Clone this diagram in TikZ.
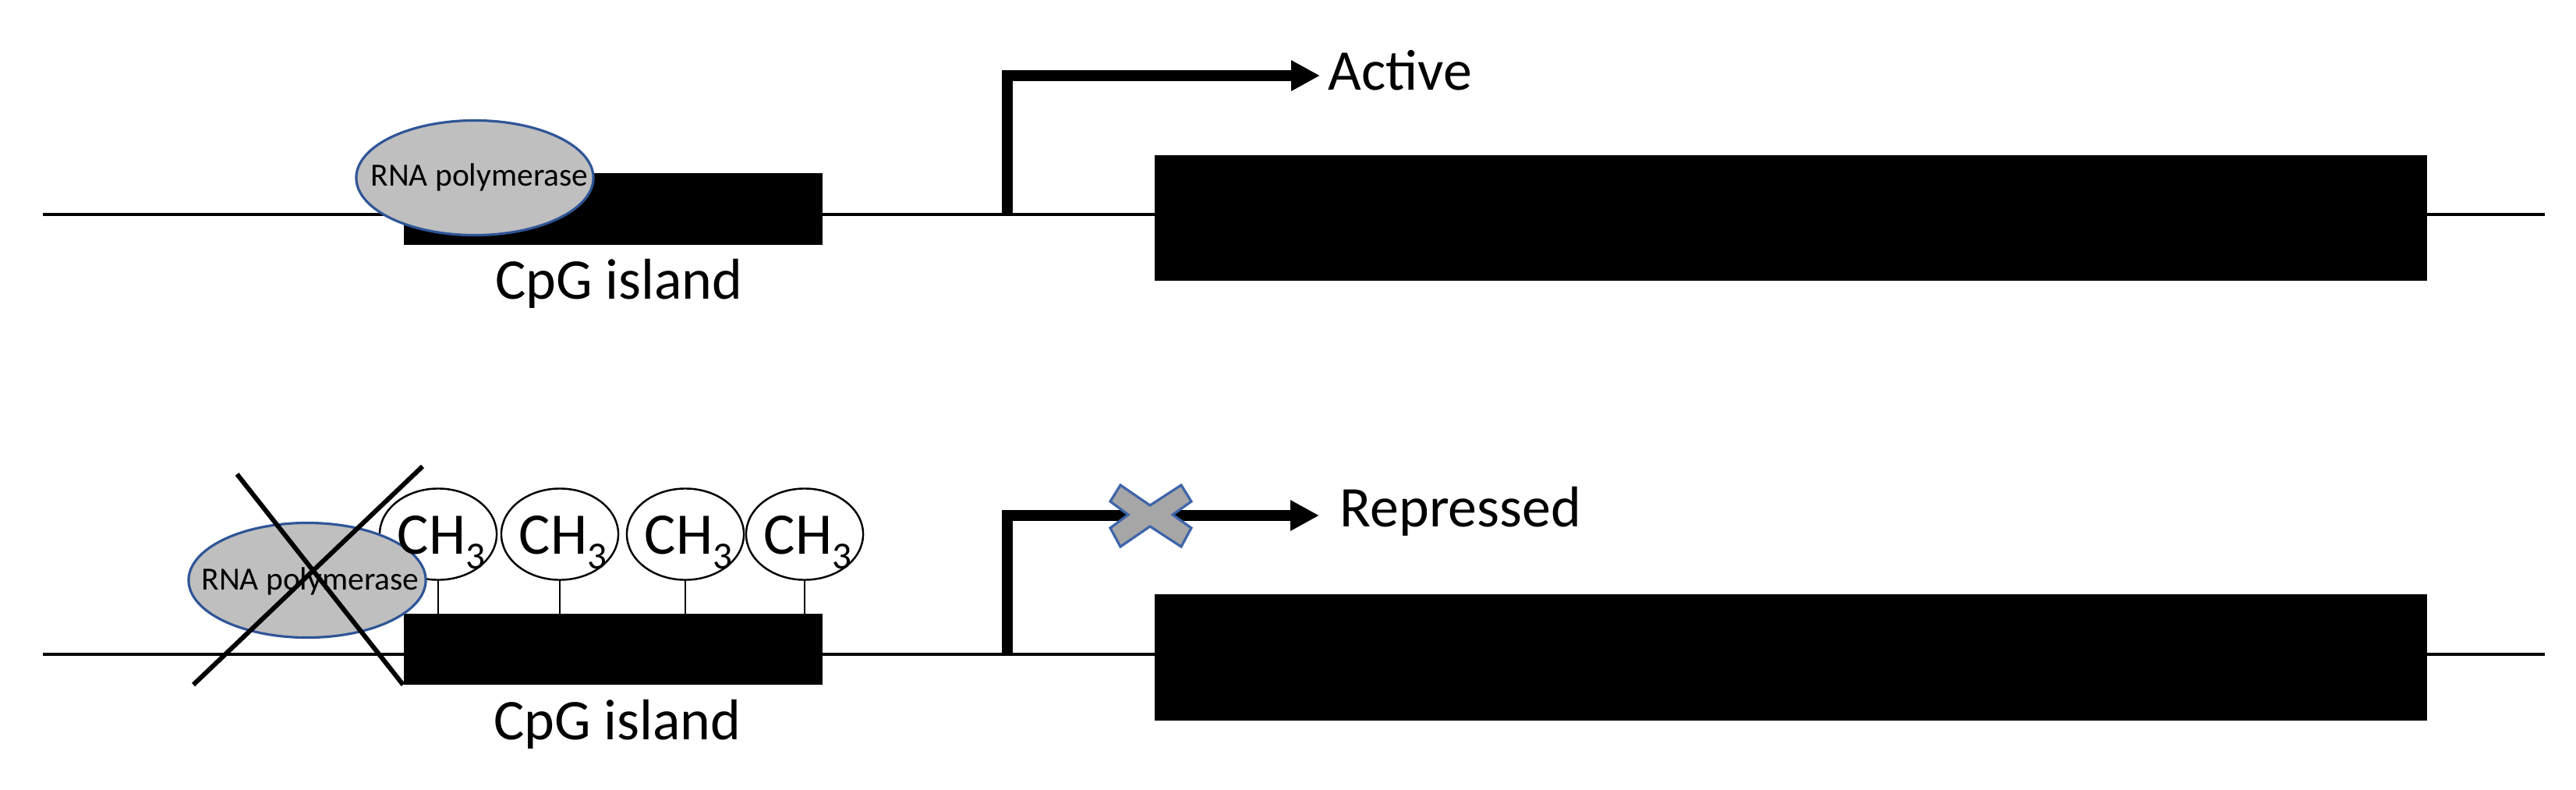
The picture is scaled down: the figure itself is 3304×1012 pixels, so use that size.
\documentclass[tikz,border=0pt]{standalone}
\usepackage{fontspec}
\setmainfont{Carlito}
\usetikzlibrary{arrows.meta,shapes.geometric}
\definecolor{polyfill}{RGB}{191,191,191}
\definecolor{polyedge}{RGB}{47,85,151}
\definecolor{xfill}{RGB}{166,166,166}
\definecolor{xedge}{RGB}{61,100,170}
\tikzset{
  dna/.style={line width=1.3pt, black},
  blockbox/.style={fill=black, draw=none, inner sep=0pt, outer sep=0pt},
  poly/.style={ellipse, fill=polyfill, draw=polyedge, line width=0.9pt,
    minimum width=3.04cm, minimum height=1.47cm, inner sep=0pt},
  polytext/.style={anchor=base, font=\fontsize{11.8}{14}\selectfont, inner sep=0pt},
  lbl/.style={font=\fontsize{21}{25}\selectfont, inner sep=0pt},
  prom/.style={line width=3.8pt, line join=miter, -{Triangle[length=0.37cm,width=0.37cm]}},
  methyl/.style={ellipse, draw=black, fill=white, line width=0.7pt,
    minimum width=1.5cm, minimum height=1.17cm, inner sep=0pt},
  chtext/.style={anchor=base, font=\fontsize{21.5}{25}\selectfont, inner sep=0pt},
  stem/.style={line width=0.6pt, black},
  cross/.style={line width=1.7pt, black},
  blocked/.style={fill=xfill, draw=xedge, line width=0.9pt, line join=miter}
}
\newcommand{\methylgrp}{CH\raisebox{-5.6pt}{\fontsize{14}{16}\selectfont 3}}
\begin{document}
\begin{tikzpicture}[x=0.01cm, y=-0.01cm]
\useasboundingbox (0,0) rectangle (3304,1012);

% ===== Top row (active) =====
\coordinate (dA0) at (55,275);
\coordinate (dA1) at (3264,275);
\draw[dna] (dA0) -- (dA1);
\node[blockbox, minimum width=5.37cm, minimum height=0.92cm] (cpgA) at (786.5,268) {};
\node[blockbox, minimum width=16.31cm, minimum height=1.6cm] (geneA) at (2296.5,279.5) {};
\node[lbl, anchor=base] (cpgAl) at (794,383) {CpG island};
\node[poly] (rnaA) at (609,228) {};
\node[polytext] (rnaAl) at (615,238) {RNA polymerase};
\coordinate (pA) at (1292,275);
\coordinate (pAtop) at (1292,97);
\node[lbl, anchor=base west] (act) at (1703,115) {Active};
\coordinate (aA) at (1693,97);
\draw[prom] (pA) -- (pAtop) -- (aA);

% ===== Bottom row (repressed) =====
\coordinate (dB0) at (55,839);
\coordinate (dB1) at (3264,839);
\draw[dna] (dB0) -- (dB1);
\node[blockbox, minimum width=5.37cm, minimum height=0.91cm] (cpgB) at (786.5,832.5) {};
\node[blockbox, minimum width=16.31cm, minimum height=1.62cm] (geneB) at (2296.5,843) {};
\node[lbl, anchor=base] (cpgBl) at (792,948) {CpG island};

\node[methyl] (m1) at (562,685) {};
\node[methyl] (m2) at (718,685) {};
\node[methyl] (m3) at (879,685) {};
\node[methyl] (m4) at (1032,685) {};
\foreach \m in {m1,m2,m3,m4}{
  \draw[stem] (\m.south) -- (\m.south |- cpgB.north);
}
\node[poly] (rnaB) at (394,744) {};
\node[polytext] (rnaBl) at (398,756) {RNA polymerase};
\node[chtext] (c1) at ([xshift=0.04cm, yshift=-0.25cm]m1.center) {\methylgrp};
\node[chtext] (c2) at ([xshift=0.04cm, yshift=-0.25cm]m2.center) {\methylgrp};
\node[chtext] (c3) at ([xshift=0.04cm, yshift=-0.25cm]m3.center) {\methylgrp};
\node[chtext] (c4) at ([xshift=0.04cm, yshift=-0.25cm]m4.center) {\methylgrp};

\coordinate (xa0) at (304,608);
\coordinate (xa1) at (517,878);
\coordinate (xb0) at (542,598);
\coordinate (xb1) at (248,878);
\draw[cross] (xa0) -- (xa1);
\draw[cross] (xb0) -- (xb1);

\coordinate (pB) at (1292,839);
\coordinate (pBtop) at (1292,661);
\node[lbl, anchor=base west] (rep) at (1718,675) {Repressed};
\coordinate (aB) at (1692,661);
\draw[prom] (pB) -- (pBtop) -- (aB);

\draw[blocked] (1437,622) -- (1475,648) -- (1515,622) -- (1528,643) -- (1504,660)
  -- (1528,677) -- (1515,701) -- (1475,675) -- (1437,701) -- (1424,677)
  -- (1447,660) -- (1424,643) -- cycle;
\end{tikzpicture}
\end{document}
